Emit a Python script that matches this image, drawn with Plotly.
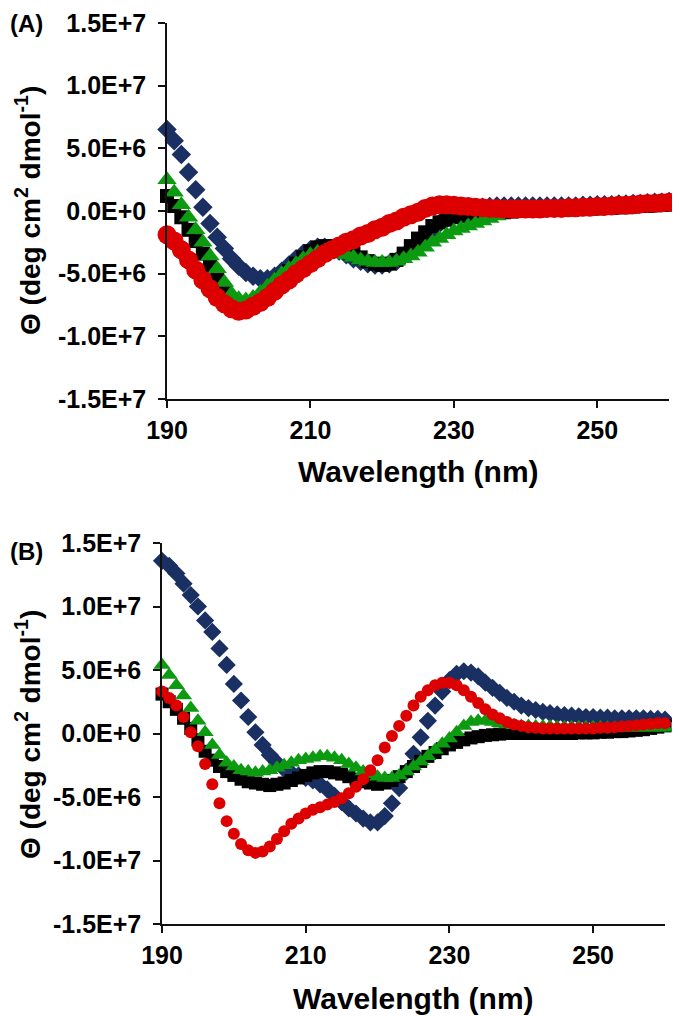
import plotly.graph_objects as go

# Wavelength (nm)
wavelength = list(range(190, 261))

# Panel A, molar ellipticity in units of 1E+6 deg cm2 dmol-1
blue_A = [6.5, 5.6, 4.5, 3.1, 1.7, 0.3, -1.0, -2.1, -3.0, -3.8,
          -4.4, -4.9, -5.2, -5.4, -5.4, -5.2, -4.8, -4.3, -3.8, -3.4,
          -3.1, -2.9, -2.9, -3.0, -3.2, -3.5, -3.8, -4.0, -4.2, -4.3,
          -4.3, -4.2, -4.0, -3.6, -3.1, -2.6, -2.0, -1.5, -1.0, -0.6,
          -0.3, -0.1, 0.1, 0.2, 0.3, 0.35, 0.4, 0.4, 0.4, 0.4,
          0.4, 0.4, 0.4, 0.4, 0.4, 0.4, 0.4, 0.4, 0.45, 0.45,
          0.5, 0.5, 0.5, 0.55, 0.55, 0.6, 0.6, 0.65, 0.7, 0.7,
          0.75]
black_A = [1.2, 0.4, -0.5, -1.5, -2.4, -3.4, -4.4, -5.4, -6.4, -7.2,
           -7.7, -7.8, -7.6, -7.2, -6.7, -6.1, -5.4, -4.8, -4.2, -3.7,
           -3.2, -2.9, -2.8, -2.8, -2.9, -3.1, -3.4, -3.7, -4.0, -4.2,
           -4.3, -4.2, -3.9, -3.4, -2.8, -2.2, -1.7, -1.2, -0.9, -0.7,
           -0.5, -0.4, -0.35, -0.3, -0.25, -0.2, -0.15, -0.1, -0.05, 0.0,
           0.0, 0.05, 0.05, 0.1, 0.1, 0.1, 0.15, 0.15, 0.15, 0.2,
           0.2, 0.25, 0.25, 0.3, 0.3, 0.35, 0.4, 0.4, 0.45, 0.5,
           0.5]
green_A = [2.5, 1.5, 0.5, -0.5, -1.5, -2.5, -3.6, -4.6, -5.7, -6.6,
           -7.0, -7.1, -6.9, -6.5, -6.0, -5.5, -5.0, -4.6, -4.2, -3.8,
           -3.5, -3.3, -3.2, -3.2, -3.3, -3.5, -3.7, -3.9, -4.0, -4.1,
           -4.1, -4.1, -4.0, -3.8, -3.6, -3.3, -2.9, -2.5, -2.2, -1.9,
           -1.6, -1.4, -1.2, -1.0, -0.8, -0.6, -0.4, -0.2, -0.1, 0.0,
           0.05, 0.1, 0.15, 0.2, 0.2, 0.2, 0.2, 0.25, 0.25, 0.3,
           0.3, 0.3, 0.35, 0.35, 0.4, 0.4, 0.45, 0.5, 0.5, 0.55,
           0.6]
red_A = [-1.9, -2.4, -3.1, -3.9, -4.7, -5.5, -6.2, -6.9, -7.4, -7.8,
         -8.0, -7.9, -7.6, -7.3, -6.9, -6.4, -5.9, -5.5, -5.0, -4.6,
         -4.2, -3.8, -3.4, -3.1, -2.8, -2.5, -2.3, -2.0, -1.8, -1.5,
         -1.3, -1.0, -0.8, -0.5, -0.3, -0.1, 0.2, 0.4, 0.5, 0.5,
         0.45, 0.4, 0.35, 0.3, 0.25, 0.2, 0.2, 0.15, 0.15, 0.15,
         0.15, 0.15, 0.15, 0.2, 0.2, 0.2, 0.25, 0.25, 0.3, 0.3,
         0.35, 0.35, 0.4, 0.45, 0.45, 0.5, 0.55, 0.6, 0.6, 0.65,
         0.7]

# Panel B
blue_B = [13.6, 13.2, 12.6, 11.8, 10.9, 10.0, 8.9, 8.0, 6.7, 5.4,
          3.9, 2.6, 1.3, 0.1, -0.9, -1.7, -2.3, -2.8, -3.1, -3.3,
          -3.5, -3.7, -4.0, -4.4, -4.9, -5.4, -5.9, -6.3, -6.7, -7.0,
          -7.0, -6.5, -5.5, -4.3, -3.0, -1.6, -0.3, 1.0, 2.2, 3.3,
          4.2, 4.7, 4.9, 4.8, 4.5, 4.0, 3.6, 3.2, 2.8, 2.5,
          2.2, 2.0, 1.85, 1.7, 1.6, 1.5, 1.45, 1.4, 1.35, 1.3,
          1.3, 1.25, 1.25, 1.2, 1.2, 1.2, 1.2, 1.2, 1.15, 1.15,
          1.1]
black_B = [3.1, 2.5, 1.9, 1.2, 0.4, -0.5, -1.4, -2.1, -2.6, -3.0,
           -3.3, -3.6, -3.8, -3.9, -4.0, -4.1, -4.0, -3.9, -3.7, -3.5,
           -3.3, -3.1, -3.0, -3.0, -3.1, -3.2, -3.4, -3.6, -3.8, -3.9,
           -4.0, -3.9, -3.7, -3.4, -3.0, -2.6, -2.2, -1.8, -1.5, -1.2,
           -0.9, -0.7, -0.5, -0.35, -0.25, -0.15, -0.1, -0.05, 0.0, 0.0,
           0.0, 0.0, 0.0, 0.0, 0.0, 0.0, 0.0, 0.0, 0.05, 0.05,
           0.05, 0.1, 0.1, 0.15, 0.15, 0.2, 0.25, 0.3, 0.4, 0.5,
           0.6]
green_B = [5.4, 4.6, 3.8, 3.0, 2.0, 1.0, 0.1, -0.9, -1.7, -2.3,
           -2.6, -2.9, -3.0, -3.1, -3.0, -2.9, -2.7, -2.5, -2.3, -2.1,
           -2.0, -1.9, -1.8, -1.8, -1.9, -2.1, -2.4, -2.7, -3.0, -3.2,
           -3.4, -3.5, -3.5, -3.3, -3.0, -2.6, -2.2, -1.8, -1.3, -0.8,
           -0.4, 0.1, 0.6, 0.9, 1.0, 1.0, 0.9, 0.8, 0.7, 0.65,
           0.6, 0.6, 0.55, 0.55, 0.55, 0.5, 0.5, 0.5, 0.5, 0.5,
           0.5, 0.5, 0.45, 0.45, 0.45, 0.45, 0.45, 0.45, 0.45, 0.45,
           0.45]
red_B = [3.3, 2.8, 2.2, 1.3, 0.1, -1.0, -2.4, -4.0, -5.5, -6.9,
         -7.9, -8.7, -9.2, -9.4, -9.3, -8.9, -8.3, -7.7, -7.1, -6.7,
         -6.3, -6.0, -5.8, -5.6, -5.4, -5.1, -4.7, -4.2, -3.6, -2.9,
         -2.1, -1.1, -0.2, 0.6, 1.4, 2.2, 2.9, 3.4, 3.8, 4.0,
         4.0, 3.8, 3.4, 2.9, 2.4, 1.9, 1.5, 1.2, 0.9, 0.7,
         0.6, 0.5, 0.45, 0.4, 0.4, 0.4, 0.4, 0.4, 0.4, 0.4,
         0.4, 0.45, 0.45, 0.5, 0.55, 0.6, 0.65, 0.7, 0.75, 0.8,
         0.8]

x_ticks = [190, 210, 230, 250]
y_ticks = [-15, -10, -5, 0, 5, 10, 15]
y_ticktext = ["-1.5E+7", "-1.0E+7", "-5.0E+6", "0.0E+0", "5.0E+6", "1.0E+7", "1.5E+7"]

NAVY = "#1a2f62"
GREEN = "#0b9a10"
RED = "#dc0000"
BLACK = "#000000"
FONT = "Liberation Sans, Arial, sans-serif"

# The page places the figure 8 px from its top-left corner
OFF = 8
W, H = 680 - OFF, 1016 - OFF


def px(xp):
    return (xp - OFF) / W


def py(yp):
    return 1 - (yp - OFF) / H


fig = go.Figure()


def add_panel(xa, ya, blue, black, green, red, sizes):
    sb, sk, sg, sr = sizes
    series = [
        (blue, "diamond", NAVY, sb),
        (black, "square", BLACK, sk),
        (green, "triangle-up", GREEN, sg),
        (red, "circle", RED, sr),
    ]
    for vals, sym, col, sz in series:
        fig.add_trace(go.Scatter(
            x=wavelength, y=vals, mode="markers", xaxis=xa, yaxis=ya,
            cliponaxis=False,
            marker=dict(symbol=sym, color=col, size=sz, line=dict(width=0)),
            showlegend=False, hoverinfo="skip"))


add_panel("x", "y", blue_A, black_A, green_A, red_A, (15, 14, 17, 19))
add_panel("x2", "y2", blue_B, black_B, green_B, red_B, (14, 13, 15, 12))

axis_common = dict(
    showline=True, linecolor="#111111", linewidth=1.5,
    ticks="outside", ticklen=7, tickwidth=1.5, tickcolor="#111111",
    showgrid=False, zeroline=False, automargin=False,
    ticklabeloverflow="allow",
    tickfont=dict(family=FONT, size=25, color="#000000", weight=700),
)

fig.update_layout(
    template="none",
    width=W, height=H,
    margin=dict(l=0, r=0, t=0, b=0),
    paper_bgcolor="white", plot_bgcolor="white",
    showlegend=False,
    xaxis=dict(domain=[px(167), px(669)], anchor="y", range=[190, 260],
               tickvals=x_ticks, ticklabelstandoff=1, **axis_common),
    yaxis=dict(domain=[py(399), py(23)], anchor="x", range=[-15, 15],
               tickvals=y_ticks, ticktext=y_ticktext, ticklabelstandoff=7, **axis_common),
    xaxis2=dict(domain=[px(162), px(665)], anchor="y2", range=[190, 260],
                tickvals=x_ticks, ticklabelstandoff=1, **axis_common),
    yaxis2=dict(domain=[py(924), py(543)], anchor="x2", range=[-15, 15],
                tickvals=y_ticks, ticktext=y_ticktext, ticklabelstandoff=7, **axis_common),
)

xtitle_font = dict(family=FONT, size=30, color="#000000", weight=700)
ytitle_font = dict(family=FONT, size=28, color="#000000", weight=700)
label_font = dict(family=FONT, size=24, color="#000000", weight=700)
ytitle = "Θ (deg cm<sup>2</sup> dmol<sup>-1</sup>)"

annotations = [
    dict(text="(A)", x=0, y=1, xanchor="left", yanchor="top", font=label_font),
    dict(text="(B)", x=0, y=py(551), xanchor="left", yanchor="middle", font=label_font),
    dict(text="Wavelength (nm)", x=px(418), y=py(472), xanchor="center", yanchor="middle", font=xtitle_font),
    dict(text="Wavelength (nm)", x=px(413), y=py(998), xanchor="center", yanchor="middle", font=xtitle_font),
    dict(text=ytitle, x=0, y=py(211), textangle=-90, xanchor="left", yanchor="middle", font=ytitle_font),
    dict(text=ytitle, x=0, y=py(735), textangle=-90, xanchor="left", yanchor="middle", font=ytitle_font),
]
for a in annotations:
    a.update(xref="paper", yref="paper", showarrow=False)
fig.update_layout(annotations=annotations)

fig.write_html("out.html")
